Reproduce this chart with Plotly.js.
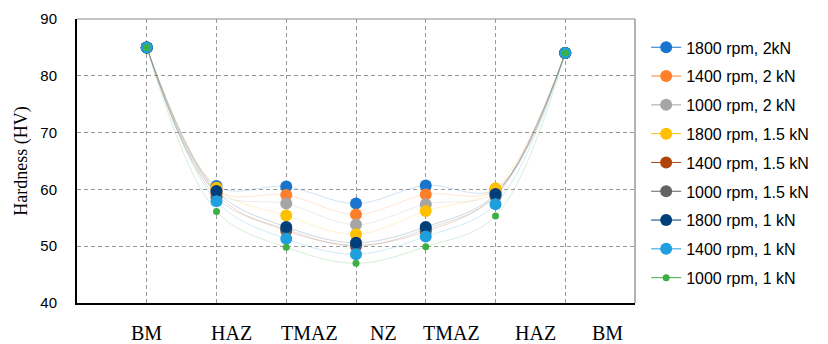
<!DOCTYPE html>
<html>
<head>
<meta charset="utf-8">
<script src="https://cdn.plot.ly/plotly-3.0.1.min.js"></script>
<style>html,body{margin:0;padding:0;background:#fff;}#chart{width:828px;height:344px;}</style>
</head>
<body>
<div id="chart"></div>
<script>
// Data
const positions = [0, 1, 2, 3, 4, 5, 6];
const zoneLabels = ['BM', 'HAZ', 'TMAZ', 'NZ', 'TMAZ', 'HAZ', 'BM'];
const seriesNames = ['1800 rpm, 2kN', '1400 rpm, 2 kN', '1000 rpm, 2 kN', '1800 rpm, 1.5 kN', '1400 rpm, 1.5 kN', '1000 rpm, 1.5 kN', '1800 rpm, 1 kN', '1400 rpm, 1 kN', '1000 rpm, 1 kN'];
const s1800_2 = [85, 60.6, 60.5, 57.5, 60.7, 60.0, 84];
const s1400_2 = [85, 59.8, 59.0, 55.6, 59.1, 59.9, 84];
const s1000_2 = [85, 59.5, 57.5, 53.8, 57.4, 59.5, 84];
const s1800_15 = [85, 60.3, 55.4, 52.1, 56.2, 60.2, 84];
const s1400_15 = [85, 59.2, 52.7, 50.2, 52.6, 59.0, 84];
const s1000_15 = [85, 58.6, 53.0, 50.0, 53.0, 58.8, 84];
const s1800_1 = [85, 59.7, 53.4, 50.6, 53.4, 59.2, 84];
const s1400_1 = [85, 57.9, 51.3, 48.6, 51.7, 57.4, 84];
const s1000_1 = [85, 56.1, 49.8, 47.0, 49.9, 55.3, 84];
const allSeries = [s1800_2, s1400_2, s1000_2, s1800_15, s1400_15, s1000_15, s1800_1, s1400_1, s1000_1];

// Styles
const colors = ['#1874cd', '#ff7f2a', '#a5a5a5', '#ffc000', '#b0450c', '#636363', '#003f7a', '#1f9fde', '#3cb043'];
const sizes = [12, 12, 12, 12, 12, 12, 12, 12, 7];
const labelOffsets = [0, 0.21, 0.34, 0.40, 0.37, 0.57, 0.60];

const lineTraces = allSeries.map((ys, i) => ({
  type: 'scatter', mode: 'lines', x: positions, y: ys, showlegend: false, hoverinfo: 'skip',
  line: {shape: 'spline', smoothing: 1, width: 1, color: colors[i]}, opacity: 0.2
}));
const markerTraces = allSeries.map((ys, i) => ({
  type: 'scatter', mode: 'markers', x: positions, y: ys, showlegend: false,
  marker: {size: sizes[i], color: colors[i]}, cliponaxis: false
}));
const legendTraces = allSeries.map((ys, i) => ({
  type: 'scatter', mode: 'lines+markers', x: [null], y: [null], name: seriesNames[i],
  legendgroup: 'g' + i,
  line: {width: 1, color: colors[i]}, marker: {size: sizes[i], color: colors[i]}
}));

const annotations = zoneLabels.map((t, i) => ({
  x: positions[i] + labelOffsets[i], y: 0, xref: 'x', yref: 'paper',
  yanchor: 'top', yshift: -17, text: t, showarrow: false,
  font: {family: 'Liberation Serif, Times New Roman, serif', size: 20, color: '#000'}
}));

const layout = {
  width: 828, height: 344,
  margin: {l: 77, r: 193, t: 19, b: 41},
  paper_bgcolor: '#fff', plot_bgcolor: '#fff',
  showlegend: true,
  legend: {
    x: 1.02, xanchor: 'left', y: 0.96, yanchor: 'top',
    font: {family: 'Liberation Sans, Arial, sans-serif', size: 16, color: '#000'},
    tracegroupgap: 5, bgcolor: 'rgba(0,0,0,0)'
  },
  xaxis: {
    range: [-1, 7], tick0: 0, dtick: 1, showticklabels: false, ticks: '',
    showgrid: true, gridcolor: '#999', griddash: '4px,3px', gridwidth: 1,
    zeroline: false, showline: true, linecolor: '#000', linewidth: 2
  },
  yaxis: {
    range: [40, 90], dtick: 10, ticks: '', ticklabelstandoff: 15,
    showgrid: true, gridcolor: '#999', griddash: '4px,3px', gridwidth: 1,
    zeroline: false, showline: true, linecolor: '#000', linewidth: 2,
    tickfont: {family: 'Liberation Sans, Arial, sans-serif', size: 15, color: '#000'},
    title: {text: 'Hardness (HV)', standoff: 8, font: {family: 'Liberation Serif, Times New Roman, serif', size: 18, color: '#000'}}
  },
  shapes: [
    {type: 'line', xref: 'paper', yref: 'paper', x0: 1, x1: 1, y0: 0, y1: 1, line: {color: '#666', width: 1}},
    {type: 'line', xref: 'paper', yref: 'paper', x0: 0, x1: 1, y0: 1, y1: 1, line: {color: '#888', width: 1}}
  ],
  annotations: annotations
};

Plotly.newPlot('chart', [...lineTraces, ...markerTraces, ...legendTraces], layout, {displayModeBar: false, staticPlot: true});
</script>
</body>
</html>
